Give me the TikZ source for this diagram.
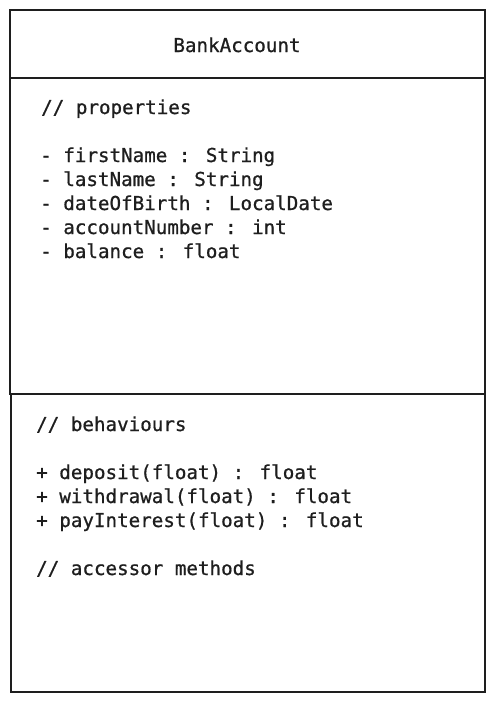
\documentclass[tikz,border=0pt]{standalone}
\usepackage{fontspec}
\newfontfamily\codefont[UprightFeatures={FakeBold=0.8}]{DejaVu Sans Mono}
\definecolor{ink}{HTML}{1E1E1E}
\tikzset{
  boxline/.style={draw=ink, line width=1.3pt},
  codeline/.style={anchor=base west, inner sep=0pt, text=ink, font=\codefont\fontsize{19.2}{24}\selectfont},
  titletext/.style={anchor=base, inner sep=0pt, text=ink, font=\codefont\fontsize{19.2}{24}\selectfont}
}
\begin{document}
\begin{tikzpicture}[x=1pt,y=-1pt]
\useasboundingbox (0,0) rectangle (495,702);
\fill[white] (0,0) rectangle (495,702);
% compartments
\draw[boxline] (10,10) rectangle (485,78);
\draw[boxline] (10,78) rectangle (485,394);
\draw[boxline] (11,394) rectangle (485,692);
% title
\node[titletext] (title) at (237,52) {BankAccount};
% properties
\node[codeline] (p0) at (41,114) {// properties};
\node[codeline] (p1) at (40,162) {- firstName : String};
\node[codeline] (p2) at (40,186) {- lastName : String};
\node[codeline] (p3) at (40,210) {- dateOfBirth : LocalDate};
\node[codeline] (p4) at (40,234) {- accountNumber : int};
\node[codeline] (p5) at (40,258) {- balance : float};
% behaviours
\node[codeline] (b0) at (36,431) {// behaviours};
\node[codeline] (b1) at (36,479) {+ deposit(float) : float};
\node[codeline] (b2) at (36,503) {+ withdrawal(float) : float};
\node[codeline] (b3) at (36,527) {+ payInterest(float) : float};
\node[codeline] (b4) at (36,575) {// accessor methods};
\end{tikzpicture}
\end{document}
